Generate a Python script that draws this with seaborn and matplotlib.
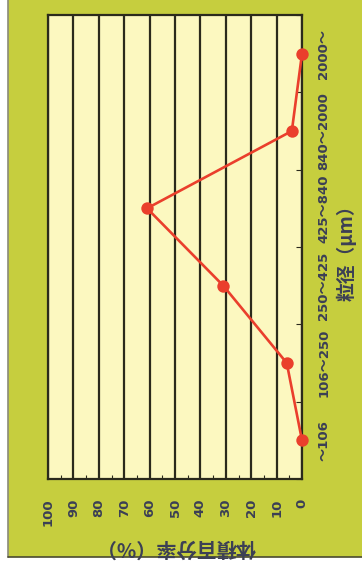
import matplotlib
matplotlib.use("Agg")
import matplotlib.pyplot as plt
from matplotlib.patches import Rectangle
from matplotlib.ticker import MultipleLocator, FixedLocator, NullFormatter
import seaborn as sns
import pandas as pd

categories = ["～106", "106～250", "250～425", "425～840", "840～2000", "2000～"]
values = [0, 6, 31, 61, 4, 0]
value_ticks = [100, 90, 80, 70, 60, 50, 40, 30, 20, 10, 0]
value_label = "体積百分率（%）"
cat_label = "粒径（μm）"

sns.set_style("white")
plt.rcParams['font.family'] = ['DejaVu Sans', 'Noto Sans CJK JP']

W, H = 362, 572
fig = plt.figure(figsize=(W / 100, H / 100), dpi=100)
fig.patch.set_facecolor("white")
green = "#c6ce3e"
fig.patches.append(Rectangle((8 / W, 15 / H), 1 - 8 / W, 557 / H, transform=fig.transFigure,
                             facecolor=green, edgecolor="none", zorder=-10))
fig.lines.append(plt.Line2D([8 / W, 8 / W], [15 / H, 1], transform=fig.transFigure,
                            color="#8a8a7a", lw=1.2))
fig.lines.append(plt.Line2D([8 / W, 1], [15 / H, 15 / H], transform=fig.transFigure,
                            color="#4a4a30", lw=1.2))

ax = fig.add_axes([48 / W, (H - 479) / H, (302 - 48) / W, (479 - 15) / H])
ax.set_facecolor("#fcf8c0")

df = pd.DataFrame({"cat": categories, "val": values})
sns.pointplot(data=df, x="val", y="cat", order=categories[::-1], orient="h",
              color="#ea3f2c", markers="o", linestyles="-", errorbar=None,
              markersize=7.5, linewidth=1.9, ax=ax, zorder=5)
for ln in ax.lines:
    ln.set_clip_on(False)
for c in ax.collections:
    c.set_clip_on(False)

ax.set_xlim(100, 0)
ax.set_ylim(5.5, -0.5)
ax.xaxis.set_major_locator(FixedLocator(value_ticks))
ax.xaxis.set_minor_locator(MultipleLocator(5))
ax.xaxis.set_minor_formatter(NullFormatter())
for v in value_ticks:
    ax.axvline(v, color="#2b2a1c", lw=1.6, zorder=1)

txt = "#3b3f55"
ax.tick_params(axis="x", which="major", length=0, pad=14, labelrotation=90,
               labelsize=9.5, labelcolor=txt)
ax.tick_params(axis="x", which="minor", direction="in", length=3, color="#2b2a1c", width=0.8,
               bottom=True, top=False)
for lab in ax.get_xticklabels():
    lab.set_fontweight("bold")

ax.yaxis.tick_right()
ax.yaxis.set_minor_locator(MultipleLocator(1, offset=0.5))
ax.yaxis.set_minor_formatter(NullFormatter())
ax.tick_params(axis="y", which="major", length=0, pad=11, labelsize=9.5, labelcolor=txt,
               left=False, right=True, labelleft=False, labelright=True)
ax.tick_params(axis="y", which="minor", direction="in", length=4, color="#2b2a1c", width=0.8,
               left=False, right=True)
for lab in ax.get_yticklabels():
    lab.set_rotation(90)
    lab.set_va("center")
    lab.set_fontweight("bold")

ax.set_xlabel("")
ax.set_ylabel("")
for s in ax.spines.values():
    s.set_color("#2b2a1c")
    s.set_linewidth(1.6)
    s.set_visible(True)

fig.text(176 / W, 1 - 548 / H, value_label, rotation=180, ha="center", va="center",
         fontsize=14.5, fontweight="bold", color=txt,
         family=['Noto Sans CJK JP', 'DejaVu Sans'])
fig.text(347 / W, 1 - 248 / H, cat_label, rotation=90, ha="center", va="center",
         fontsize=13.5, fontweight="bold", color=txt,
         family=['Noto Sans CJK JP', 'DejaVu Sans'])

fig.savefig("out.png", dpi=100, facecolor=fig.get_facecolor())
